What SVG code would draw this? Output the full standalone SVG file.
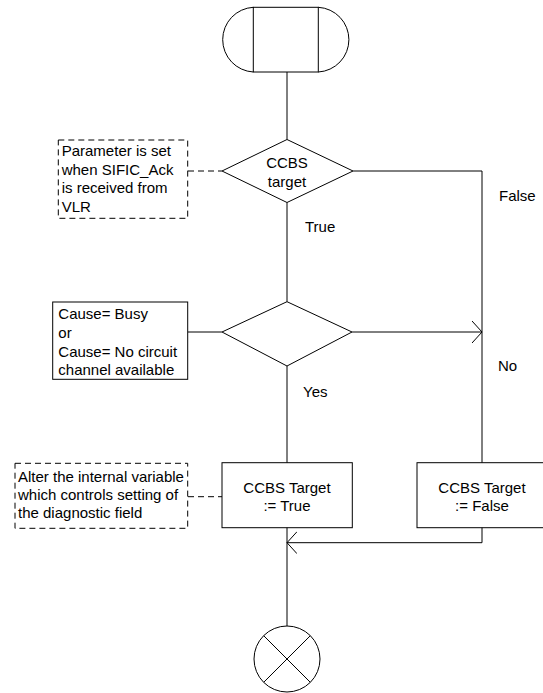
<svg xmlns="http://www.w3.org/2000/svg" width="543" height="693" viewBox="0 0 543 693">
<style>
.s{fill:none;stroke:#000;stroke-width:1}
.d{fill:none;stroke:#000;stroke-width:1;stroke-dasharray:6 4}
.t{font-family:"Liberation Sans",Arial,sans-serif;font-size:15px;fill:#000}
.c{text-anchor:middle}
</style>
<defs>
<marker id="arr" markerWidth="12" markerHeight="24" refX="10" refY="11" orient="auto" markerUnits="userSpaceOnUse">
<path d="M0,0 L10,11 L0,22" fill="none" stroke="#000" stroke-width="1"/>
</marker>
</defs>
<rect width="543" height="693" fill="#fff"/>
<g id="connectors">
<path class="s" d="M287,72 V139.5"/>
<path class="s" d="M287,202.5 V301.7"/>
<path class="s" d="M353,171 H482 V462.7"/>
<path class="s" d="M352,332 H482" marker-end="url(#arr)"/>
<path class="s" d="M287,366 V462.7"/>
<path class="s" d="M188,332 H222"/>
<path class="s" d="M287,527.7 V626"/>
<path class="s" d="M482,527.7 V542.7 H287" marker-end="url(#arr)"/>
<path class="d" d="M188,171 H222"/>
<path class="d" d="M188,496.7 H222"/>
</g>
<g id="start">
<rect class="s" x="253.3" y="7.3" width="65" height="64.7"/>
<path class="s" d="M253.3,7.3 A32.4,32.4 0 0 0 253.3,72"/>
<path class="s" d="M318.3,7.3 A32.4,32.4 0 0 1 318.3,72"/>
</g>
<g id="comment1">
<rect class="d" x="58.3" y="140" width="129.4" height="78.3"/>
<text class="t" x="61.7" y="156.2">Parameter is set</text>
<text class="t" x="61.7" y="174.7">when SIFIC_Ack</text>
<text class="t" x="61.7" y="193.2">is received from</text>
<text class="t" x="61.7" y="211.7">VLR</text>
</g>
<g id="decision1">
<polygon class="s" points="222,171 287,139.5 353,171 287,202.5"/>
<text class="t c" x="287" y="168">CCBS</text>
<text class="t c" x="287" y="187">target</text>
</g>
<g id="labels">
<text class="t" x="305" y="231.7">True</text>
<text class="t" x="499" y="200.7">False</text>
<text class="t" x="303" y="396.7">Yes</text>
<text class="t" x="498" y="371">No</text>
</g>
<g id="cause">
<rect class="s" x="52.7" y="302" width="135" height="77.3"/>
<text class="t" x="58.3" y="319.3">Cause= Busy</text>
<text class="t" x="58.3" y="337.8">or</text>
<text class="t" x="58.3" y="356.5">Cause= No circuit</text>
<text class="t" x="58.3" y="375">channel available</text>
</g>
<g id="decision2">
<polygon class="s" points="222,332 287,301.7 352,332 287,366"/>
</g>
<g id="comment2">
<rect class="d" x="15" y="463.3" width="172.7" height="65"/>
<text class="t" x="18" y="481.7">Alter the internal variable</text>
<text class="t" x="18" y="500">which controls setting of</text>
<text class="t" x="18" y="518.3">the diagnostic field</text>
</g>
<g id="taskTrue">
<rect class="s" x="222" y="462.7" width="130.3" height="65"/>
<text class="t c" x="287" y="492.5">CCBS Target</text>
<text class="t c" x="287" y="510.5">:= True</text>
</g>
<g id="taskFalse">
<rect class="s" x="417" y="462.7" width="130.3" height="65"/>
<text class="t c" x="482" y="492.5">CCBS Target</text>
<text class="t c" x="482" y="510.5">:= False</text>
</g>
<g id="stop">
<circle class="s" cx="287" cy="659" r="33"/>
<path class="s" d="M263.7,635.7 L310.3,682.3 M310.3,635.7 L263.7,682.3"/>
</g>
</svg>
